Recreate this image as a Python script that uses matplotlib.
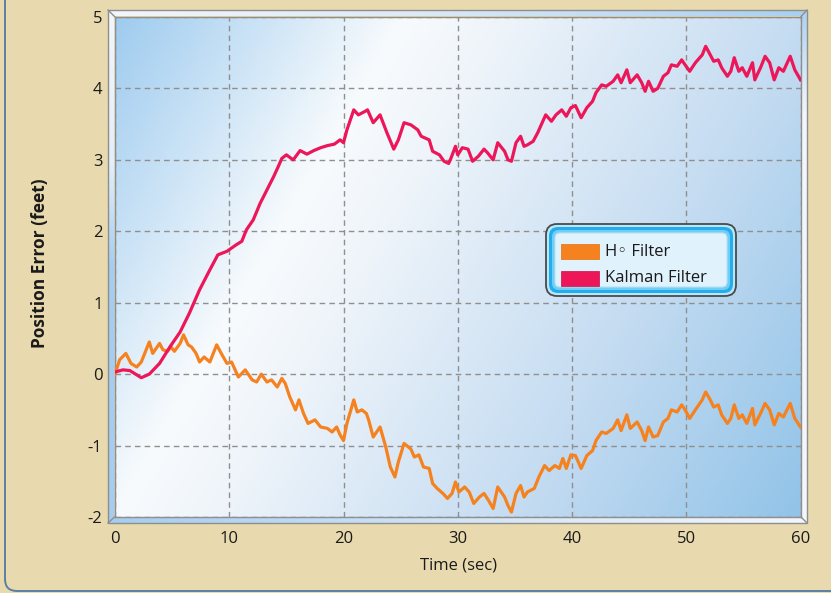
import numpy as np
import matplotlib
matplotlib.use("Agg")
import matplotlib.pyplot as plt
from matplotlib.patches import Polygon, FancyBboxPatch, Rectangle
from matplotlib.colors import to_rgb

# ---------------- data ----------------
kalman_t = [0, 0.7, 1.3, 2.3, 3.0, 3.9, 4.8, 5.7, 6.5, 7.4, 8.3, 9.0, 9.8, 10.6, 11.1, 11.5,
            12.1, 12.7, 13.3, 13.9, 14.3, 14.6, 15.0, 15.6, 16.2, 16.8, 17.4, 18.0, 18.6, 19.2,
            19.7, 20.0, 20.3, 20.9, 21.3, 21.9, 22.1, 22.6, 23.2, 23.8, 24.4, 24.8, 25.3, 25.9,
            26.5, 26.8, 27.5, 27.8, 28.4, 28.8, 29.2, 29.4, 29.8, 30.0, 30.4, 30.9, 31.3, 31.8,
            32.3, 32.6, 33.1, 33.5, 34.1, 34.4, 34.7, 35.1, 35.5, 35.8, 36.1, 36.6, 37.0, 37.5,
            37.7, 38.2, 38.6, 39.1, 39.5, 39.9, 40.3, 40.8, 41.3, 41.8, 42.1, 42.6, 43.0, 43.6,
            44.0, 44.3, 44.8, 45.1, 45.7, 46.1, 46.4, 46.7, 47.1, 47.5, 48.0, 48.4, 48.7, 49.2,
            49.6, 49.9, 50.3, 50.8, 51.4, 51.7, 52.1, 52.4, 52.8, 53.1, 53.6, 53.9, 54.2, 54.6,
            54.9, 55.3, 55.8, 56.0, 56.5, 56.9, 57.3, 57.7, 58.1, 58.5, 59.1, 59.5, 60.0]
kalman_v = [0.03, 0.06, 0.05, -0.05, 0.0, 0.15, 0.38, 0.59, 0.85, 1.18, 1.46, 1.67, 1.72, 1.81,
            1.86, 2.02, 2.16, 2.39, 2.58, 2.77, 2.91, 3.02, 3.07, 3.00, 3.13, 3.08, 3.13, 3.17,
            3.20, 3.22, 3.28, 3.24, 3.42, 3.70, 3.63, 3.68, 3.70, 3.52, 3.63, 3.38, 3.15, 3.28,
            3.52, 3.49, 3.42, 3.33, 3.28, 3.12, 3.07, 2.98, 2.95, 3.02, 3.19, 3.07, 3.17, 3.15,
            2.98, 3.05, 3.15, 3.10, 3.00, 3.24, 3.12, 3.00, 2.98, 3.24, 3.33, 3.19, 3.21, 3.26,
            3.38, 3.56, 3.63, 3.54, 3.63, 3.70, 3.61, 3.73, 3.76, 3.59, 3.73, 3.82, 3.94, 4.05,
            4.03, 4.10, 4.19, 4.08, 4.26, 4.08, 4.19, 4.08, 3.96, 4.10, 3.96, 4.00, 4.17, 4.22,
            4.33, 4.31, 4.40, 4.33, 4.24, 4.36, 4.47, 4.59, 4.47, 4.38, 4.40, 4.29, 4.17, 4.24,
            4.43, 4.24, 4.29, 4.17, 4.36, 4.12, 4.29, 4.45, 4.36, 4.12, 4.29, 4.24, 4.45, 4.26,
            4.12]

hinf_t = [0, 0.4, 0.95, 1.4, 1.9, 2.3, 2.6, 3.0, 3.3, 3.9, 4.2, 4.6, 4.9, 5.2, 5.7, 6.0, 6.4,
          6.7, 7.1, 7.4, 7.8, 8.3, 8.9, 9.3, 9.8, 10.2, 10.8, 11.4, 12.0, 12.4, 12.8, 13.3, 13.7,
          14.2, 14.6, 14.9, 15.3, 15.8, 16.1, 16.5, 16.9, 17.5, 18.0, 18.6, 19.0, 19.4, 19.7,
          20.0, 20.3, 20.9, 21.2, 21.6, 22.0, 22.2, 22.6, 23.2, 23.7, 24.1, 24.5, 24.8, 25.3,
          25.9, 26.2, 26.6, 27.0, 27.5, 27.8, 28.2, 28.7, 29.1, 29.5, 29.8, 30.1, 30.6, 31.0,
          31.4, 31.9, 32.3, 32.7, 33.1, 33.5, 34.1, 34.4, 34.7, 35.1, 35.5, 35.8, 36.1, 36.7,
          37.1, 37.6, 38.0, 38.5, 38.9, 39.2, 39.5, 39.9, 40.3, 40.8, 41.3, 41.8, 42.1, 42.6,
          43.0, 43.6, 44.0, 44.3, 44.8, 45.1, 45.7, 46.1, 46.4, 46.7, 47.1, 47.5, 48.0, 48.4,
          48.7, 49.2, 49.6, 49.9, 50.3, 50.8, 51.4, 51.7, 52.1, 52.4, 52.8, 53.1, 53.6, 53.9,
          54.2, 54.6, 54.9, 55.3, 55.8, 56.0, 56.5, 56.9, 57.3, 57.7, 58.1, 58.5, 59.1, 59.5,
          60.0]
hinf_v = [0.0, 0.20, 0.29, 0.15, 0.10, 0.17, 0.29, 0.45, 0.29, 0.43, 0.34, 0.32, 0.38, 0.32,
          0.43, 0.55, 0.41, 0.38, 0.29, 0.17, 0.24, 0.17, 0.41, 0.29, 0.15, 0.17, -0.04, 0.06,
          -0.08, -0.11, 0.0, -0.11, -0.08, -0.18, -0.06, -0.13, -0.32, -0.50, -0.36, -0.55,
          -0.69, -0.64, -0.74, -0.76, -0.81, -0.74, -0.85, -0.93, -0.69, -0.36, -0.53, -0.50,
          -0.55, -0.64, -0.88, -0.74, -1.02, -1.30, -1.44, -1.23, -0.97, -1.05, -1.16, -1.13,
          -1.30, -1.32, -1.53, -1.60, -1.67, -1.74, -1.67, -1.51, -1.65, -1.58, -1.65, -1.81,
          -1.72, -1.67, -1.77, -1.88, -1.58, -1.72, -1.84, -1.93, -1.67, -1.56, -1.72, -1.65,
          -1.60, -1.44, -1.28, -1.35, -1.28, -1.32, -1.18, -1.32, -1.13, -1.14, -1.32, -1.14,
          -1.07, -0.93, -0.81, -0.83, -0.76, -0.64, -0.79, -0.57, -0.76, -0.67, -0.79, -0.93,
          -0.74, -0.88, -0.86, -0.67, -0.62, -0.50, -0.53, -0.43, -0.50, -0.62, -0.50, -0.36,
          -0.25, -0.36, -0.46, -0.43, -0.57, -0.69, -0.62, -0.43, -0.62, -0.57, -0.69, -0.48,
          -0.71, -0.55, -0.41, -0.50, -0.71, -0.55, -0.60, -0.41, -0.62, -0.74]

x_ticks = [0, 10, 20, 30, 40, 50, 60]
y_ticks = [-2, -1, 0, 1, 2, 3, 4, 5]
series_labels = ["H\u25e6 Filter", "Kalman Filter"]
x_label = "Time (sec)"
y_label = "Position Error (feet)"

# ---------------- styling ----------------
FONT = ["Open Sans", "DejaVu Sans"]
plt.rcParams["font.family"] = FONT
plt.rcParams["axes.unicode_minus"] = False
BEIGE = "#e8daae"
ORANGE = "#f5821f"
PINK = "#ec1659"
W, H = 831, 593

fig = plt.figure(figsize=(W / 100, H / 100), dpi=100, facecolor=BEIGE)

# background overlay in pixel coordinates
bg = fig.add_axes([0, 0, 1, 1], zorder=0)
bg.set_xlim(0, W)
bg.set_ylim(H, 0)
bg.axis("off")

bg.add_patch(FancyBboxPatch((5, -40), 900, 631, boxstyle="round,pad=0,rounding_size=12",
                            fc="none", ec="#5d7fa6", lw=1.4))


def grad_poly(ax, verts, stops, direction):
    xs = [v[0] for v in verts]
    ys = [v[1] for v in verts]
    x0, x1, y0, y1 = min(xs), max(xs), min(ys), max(ys)
    poly = Polygon(verts, closed=True, fc="none", ec="none")
    ax.add_patch(poly)
    n = 256
    g = np.linspace(0, 1, n)
    pos = [s[0] for s in stops]
    cols = np.array([to_rgb(s[1]) for s in stops])
    arr = np.stack([np.interp(g, pos, cols[:, k]) for k in range(3)], axis=-1)
    if direction == "h":
        arr = arr[None, :, :]
    else:
        arr = arr[:, None, :]
    im = ax.imshow(arr, extent=(x0, x1, y1, y0), aspect="auto", interpolation="bilinear",
                   origin="upper", zorder=1)
    im.set_clip_path(poly)


BL = "#a6cdef"
WH = "#f3f6fa"
ox0, ox1, oy0, oy1 = 108, 807, 10, 523
ix0, ix1, iy0, iy1 = 114.5, 801, 16.5, 517
grad_poly(bg, [(ox0, oy0), (ox1, oy0), (ix1, iy0), (ix0, iy0)], [(0, WH), (0.45, "#dde9f5"), (1, "#a9d0f0")], "h")
grad_poly(bg, [(ox1, oy0), (ox1, oy1), (ix1, iy1), (ix1, iy0)], [(0, "#aed2f0"), (0.2, WH), (1, WH)], "v")
grad_poly(bg, [(ox0, oy1), (ox1, oy1), (ix1, iy1), (ix0, iy1)], [(0, BL), (0.5, "#d3e5f6"), (1, WH)], "h")
grad_poly(bg, [(ox0, oy0), (ix0, iy0), (ix0, iy1), (ox0, oy1)], [(0, WH), (0.3, "#e4eef8"), (0.5, BL), (1, BL)], "v")
EDGE = "#8e8e8e"
bg.add_patch(Rectangle((ox0, oy0), ox1 - ox0, oy1 - oy0, fc="none", ec=EDGE, lw=1.0, zorder=2))
for (a, b) in [((ox0, oy0), (ix0, iy0)), ((ox1, oy0), (ix1, iy0)),
               ((ox1, oy1), (ix1, iy1)), ((ox0, oy1), (ix0, iy1))]:
    bg.plot([a[0], b[0]], [a[1], b[1]], color=EDGE, lw=1.0, zorder=2)
bg.set_xlim(0, W)
bg.set_ylim(H, 0)

# main axes
L, R, T, B = 115, 800.5, 17, 517
ax = fig.add_axes([L / W, 1 - B / H, (R - L) / W, (B - T) / H], zorder=1)

# plot-area gradient
pw, ph = int(R - L), int(B - T)
xx, yy = np.meshgrid(np.arange(pw), np.arange(ph))
s = xx / 290.0 + yy / 500.0
sp = [0.0, 1.0, 1.35, 2.4, 3.4]
sc = np.array([to_rgb(c) for c in ["#9ecbef", "#f8fbfd", "#eef4fa", "#c3dbf1", "#8fc2e8"]])
img = np.stack([np.interp(s, sp, sc[:, k]) for k in range(3)], axis=-1)
ax.imshow(img, extent=(0, 60, -2, 5), aspect="auto", origin="upper", zorder=0,
          interpolation="bilinear")

ax.plot(hinf_t, hinf_v, color=ORANGE, lw=2.3, zorder=3, solid_joinstyle="round")
ax.plot(kalman_t, kalman_v, color=PINK, lw=2.3, zorder=4, solid_joinstyle="round")

ax.set_xlim(0, 60)
ax.set_ylim(-2, 5)
ax.set_xticks(x_ticks)
ax.set_yticks(y_ticks)
ax.grid(True, color="#8f8f8f", linestyle=(0, (4, 3)), linewidth=1.0, zorder=1)
ax.set_axisbelow(False)
for ln in ax.get_xgridlines() + ax.get_ygridlines():
    ln.set_zorder(1)
ax.tick_params(axis="both", length=0, labelsize=12, colors="#1a1a1a")
ax.tick_params(axis="y", pad=9)
ax.tick_params(axis="x", pad=10)
for sp_ in ax.spines.values():
    sp_.set_color(EDGE)
    sp_.set_linewidth(1.0)

fig.text(458 / W, 1 - 566 / H, x_label, ha="center", va="center", fontsize=12, color="#1a1a1a")
fig.text(40 / W, 1 - 263 / H, y_label, ha="center", va="center", rotation=90,
         fontsize=12.5, fontweight="bold", color="#1a1a1a")

# legend overlay
lg = fig.add_axes([0, 0, 1, 1], zorder=5)
lg.set_xlim(0, W)
lg.set_ylim(H, 0)
lg.axis("off")
lg.patch.set_alpha(0)
lg.add_patch(FancyBboxPatch((546, 224), 190, 72, boxstyle="round,pad=0,rounding_size=11",
                            fc="#b8e6fa", ec="#4a4a4a", lw=1.3))
lg.add_patch(FancyBboxPatch((549, 227), 184, 66, boxstyle="round,pad=0,rounding_size=9",
                            fc="#22aeec", ec="none"))
lg.add_patch(FancyBboxPatch((552, 230), 178, 60, boxstyle="round,pad=0,rounding_size=7",
                            fc="#72cdf4", ec="none"))
lg.add_patch(FancyBboxPatch((555, 233), 172, 54, boxstyle="round,pad=0,rounding_size=5",
                            fc="#e0f2fc", ec="#b5e2f7", lw=0.8))
lg.add_patch(Rectangle((561, 243.5), 38, 15.5, fc=ORANGE, ec="#e07010", lw=0.5))
lg.add_patch(Rectangle((561, 270.5), 38, 15.5, fc=PINK, ec="#c81048", lw=0.5))
lg.text(605, 251.5, series_labels[0], ha="left", va="center", fontsize=12, color="#1a1a1a")
lg.text(605, 278.5, series_labels[1], ha="left", va="center", fontsize=12, color="#1a1a1a")

fig.savefig("out.png", dpi=100, facecolor=BEIGE)
